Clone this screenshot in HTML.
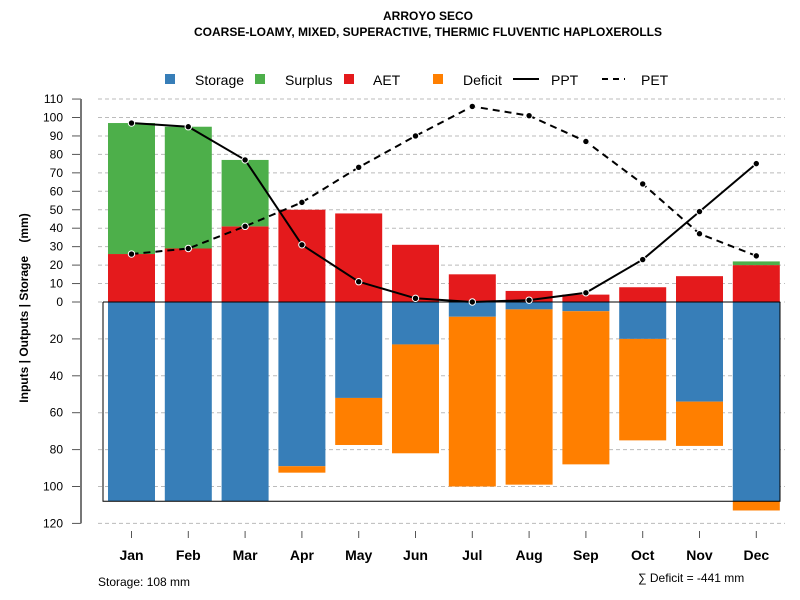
<!DOCTYPE html>
<html><head><meta charset="utf-8"><style>
body{margin:0;background:#fff}
svg{display:block;font-family:"Liberation Sans",Arial,sans-serif}
</style></head><body>
<svg id="chart" width="800" height="600" viewBox="0 0 800 600">
<text x="428" y="20" text-anchor="middle" font-size="12" font-weight="bold">ARROYO SECO</text>
<text x="428" y="36" text-anchor="middle" font-size="12" font-weight="bold">COARSE-LOAMY, MIXED, SUPERACTIVE, THERMIC FLUVENTIC HAPLOXEROLLS</text>
<g id="legend" font-size="14">
<rect x="165" y="74" width="10" height="10" fill="#377EB8"/>
<text x="195" y="85">Storage</text>
<rect x="255" y="74" width="10" height="10" fill="#4DAF4A"/>
<text x="285" y="85">Surplus</text>
<rect x="344" y="74" width="10" height="10" fill="#E41A1C"/>
<text x="373" y="85">AET</text>
<rect x="433" y="74" width="10" height="10" fill="#FF7F00"/>
<text x="463" y="85">Deficit</text>
<line x1="513" y1="79" x2="539" y2="79" stroke="#000" stroke-width="2"/>
<text x="551" y="85">PPT</text>
<line x1="602" y1="79" x2="625" y2="79" stroke="#000" stroke-width="2" stroke-dasharray="6,5"/>
<text x="641" y="85">PET</text>
</g>
<text transform="translate(28,308) rotate(-90)" text-anchor="middle" font-size="12" font-weight="bold">Inputs | Outputs | Storage&#160;&#160;&#160;&#160;(mm)</text>
<g id="grid"></g><g id="bars"></g><g id="lines"></g><g id="axes"></g>
<text x="98" y="586" font-size="12">Storage: 108 mm</text>
<text x="638" y="582" font-size="12">∑ Deficit = -441 mm</text>
</svg>
<script>
const months=["Jan","Feb","Mar","Apr","May","Jun","Jul","Aug","Sep","Oct","Nov","Dec"];
const aet=[26,29,41,50,48,31,15,6,4,8,14,20];
const surplus=[71,66,36,0,0,0,0,0,0,0,0,2];
const storage=[108,108,108,89,52,23,8,4,5,20,54,108];
const deficit=[0,0,0,3.5,25.5,59,92,95,83,55,24,5];
const ppt=[97,95,77,31,11,2,0,1,5,23,49,75];
const pet=[26,29,41,54,73,90,106,101,87,64,37,25];
const posTicks=[0,10,20,30,40,50,60,70,80,90,100,110];
const negTicks=[20,40,60,80,100,120];
const awc=108;
const NS="http://www.w3.org/2000/svg";
const y0=302,k=1.845;
const yU=v=>y0-v*k, yD=v=>y0+v*k;
const xc=i=>131.5+i*56.8, bw=47;
function mk(p,t,a){const e=document.createElementNS(NS,t);for(const q in a)e.setAttribute(q,a[q]);document.getElementById(p).appendChild(e);return e;}
posTicks.forEach(v=>{
 const l=mk('grid','line',{x1:98,x2:785,y1:yU(v),y2:yU(v),stroke:'#bbb','stroke-dasharray':'4,3'});
 
 
 const t=mk('axes','line',{x1:72,x2:81,y1:yU(v),y2:yU(v),stroke:'#555'});
 
 
 const tx=mk('axes','text',{x:63,y:yU(v)+4,'text-anchor':'end','font-size':12});
 tx.textContent=v;
 
 
});
negTicks.forEach(v=>{
 const l=mk('grid','line',{x1:98,x2:785,y1:yD(v),y2:yD(v),stroke:'#bbb','stroke-dasharray':'4,3'});
 
 
 const t=mk('axes','line',{x1:72,x2:81,y1:yD(v),y2:yD(v),stroke:'#555'});
 
 
 const tx=mk('axes','text',{x:63,y:yD(v)+4,'text-anchor':'end','font-size':12});
 tx.textContent=v;
 
 
});
const ax=mk('axes','line',{x1:81,x2:81,y1:yU(110),y2:yD(120),stroke:'#777','stroke-width':2});


months.forEach((m,i)=>{
 const x=xc(i)-bw/2;
 const r1=mk('bars','rect',{x:x,y:yU(aet[i]),width:bw,height:aet[i]*k,fill:'#E41A1C'});
 
 
 if(surplus[i]>0){const r=mk('bars','rect',{x:x,y:yU(aet[i]+surplus[i]),width:bw,height:surplus[i]*k,fill:'#4DAF4A'});
 
 }
 const r2=mk('bars','rect',{x:x,y:y0,width:bw,height:storage[i]*k,fill:'#377EB8'});
 
 
 if(deficit[i]>0){const r=mk('bars','rect',{x:x,y:yD(storage[i]),width:bw,height:deficit[i]*k,fill:'#FF7F00'});
 
 }
 const t=mk('axes','line',{x1:xc(i),x2:xc(i),y1:531,y2:538,stroke:'#555'});
 
 
 const tx=mk('axes','text',{x:xc(i),y:560,'text-anchor':'middle','font-size':14,'font-weight':'bold'});
 tx.textContent=m;
 
 
});
const zl=mk('lines','line',{x1:103,x2:780,y1:y0,y2:y0,stroke:'#000'});


const sb=mk('lines','path',{d:`M103,${y0}V${yD(awc)}H780V${y0}`,fill:'none',stroke:'#000'});


[[ppt,'ppt',null],[pet,'pet','7,5']].forEach(([arr,n,d])=>{
 const a={points:arr.map((v,i)=>xc(i)+','+yU(v)).join(' '),fill:'none',stroke:'#000','stroke-width':2};
 if(d)a['stroke-dasharray']=d;
 const pl=mk('lines','polyline',a);
 
 
 arr.forEach((v,i)=>{const c=mk('lines','circle',{cx:xc(i),cy:yU(v),r:3.2,fill:'#000',stroke:'#fff','stroke-width':1});
 
 });
});
</script>
</body></html>
